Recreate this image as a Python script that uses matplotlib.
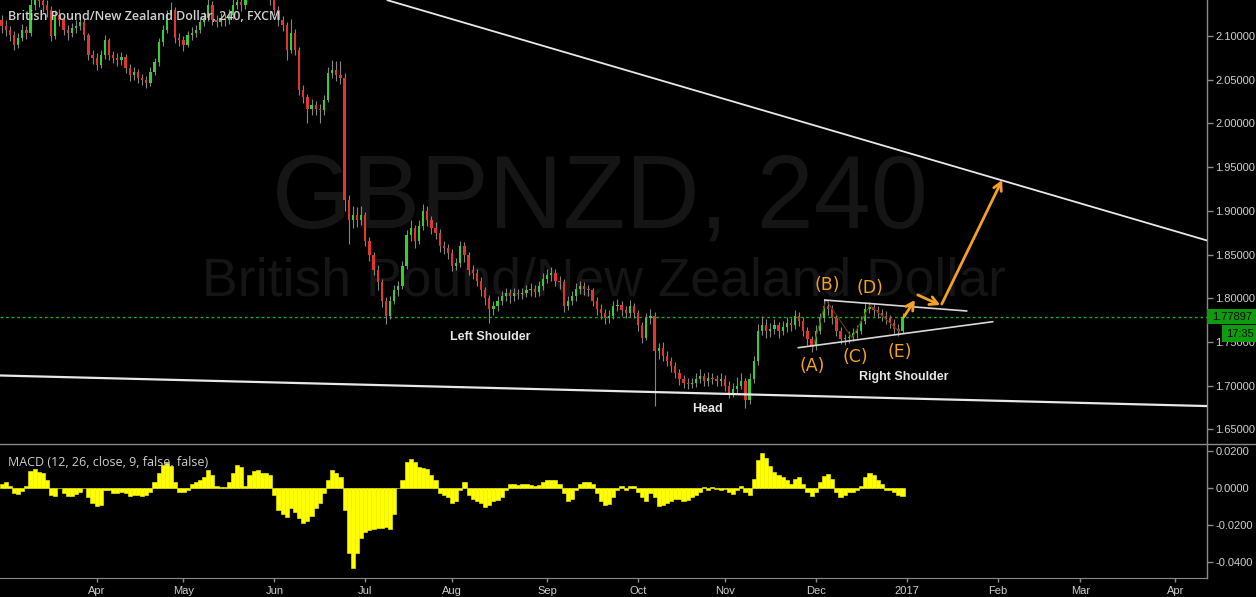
import numpy as np
import pandas as pd
import matplotlib
matplotlib.use('Agg')
import matplotlib.pyplot as plt
from matplotlib.patches import Rectangle

plt.rcParams['font.family'] = ['Liberation Sans', 'DejaVu Sans']

# ---------------- data (daily view of the 4h chart) ----------------
start_date = '2016-03-01'
first_open = 2.118
close = [2.112, 2.107, 2.101, 2.090, 2.098, 2.107, 2.104, 2.135, 2.145, 2.140,
         2.135, 2.130, 2.100, 2.124, 2.118, 2.107, 2.103, 2.109, 2.112, 2.116,
         2.101, 2.078, 2.075, 2.067, 2.078, 2.095, 2.078, 2.075, 2.072, 2.076,
         2.063, 2.055, 2.059, 2.052, 2.050, 2.046, 2.059, 2.070, 2.093, 2.107,
         2.124, 2.130, 2.098, 2.095, 2.090, 2.101, 2.104, 2.107, 2.116, 2.121,
         2.136, 2.118, 2.116, 2.121, 2.118, 2.124, 2.136, 2.139, 2.136, 2.150,
         2.158, 2.162, 2.156, 2.152, 2.148, 2.141, 2.130, 2.118, 2.113, 2.084,
         2.104, 2.084, 2.038, 2.030, 2.017, 2.021, 2.017, 2.015, 2.027, 2.058,
         2.061, 2.055, 2.052, 1.912, 1.889, 1.895, 1.889, 1.895, 1.866, 1.849,
         1.832, 1.818, 1.797, 1.780, 1.797, 1.809, 1.814, 1.837, 1.872, 1.880,
         1.866, 1.883, 1.900, 1.889, 1.880, 1.875, 1.860, 1.857, 1.852, 1.837,
         1.840, 1.860, 1.849, 1.832, 1.829, 1.820, 1.809, 1.800, 1.788, 1.791,
         1.797, 1.802, 1.806, 1.802, 1.806, 1.805, 1.806, 1.809, 1.811, 1.807,
         1.814, 1.822, 1.826, 1.829, 1.820, 1.818, 1.791, 1.797, 1.802, 1.811,
         1.814, 1.811, 1.809, 1.797, 1.788, 1.783, 1.777, 1.780, 1.791, 1.792,
         1.786, 1.783, 1.791, 1.783, 1.769, 1.755, 1.777, 1.780, 1.740, 1.743,
         1.734, 1.728, 1.723, 1.715, 1.708, 1.703, 1.702, 1.703, 1.708, 1.711,
         1.705, 1.709, 1.708, 1.705, 1.708, 1.700, 1.692, 1.696, 1.700, 1.705,
         1.683, 1.708, 1.728, 1.763, 1.769, 1.763, 1.765, 1.769, 1.763, 1.767,
         1.772, 1.769, 1.780, 1.774, 1.763, 1.753, 1.745, 1.763, 1.777, 1.791,
         1.788, 1.777, 1.763, 1.753, 1.754, 1.756, 1.760, 1.763, 1.774, 1.788,
         1.790, 1.786, 1.783, 1.780, 1.777, 1.772, 1.765, 1.763, 1.779]
high = [2.124, 2.118, 2.112, 2.106, 2.104, 2.114, 2.112, 2.142, 2.152, 2.150,
        2.146, 2.141, 2.134, 2.130, 2.131, 2.122, 2.113, 2.115, 2.118, 2.124,
        2.120, 2.104, 2.084, 2.080, 2.084, 2.101, 2.098, 2.083, 2.080, 2.082,
        2.079, 2.068, 2.064, 2.062, 2.057, 2.054, 2.064, 2.075, 2.098, 2.113,
        2.130, 2.139, 2.133, 2.103, 2.100, 2.106, 2.110, 2.113, 2.121, 2.127,
        2.145, 2.140, 2.124, 2.126, 2.125, 2.131, 2.144, 2.146, 2.144, 2.157,
        2.165, 2.170, 2.167, 2.161, 2.158, 2.153, 2.146, 2.134, 2.123, 2.116,
        2.120, 2.108, 2.087, 2.044, 2.034, 2.028, 2.026, 2.022, 2.033, 2.064,
        2.072, 2.071, 2.071, 2.058, 1.918, 1.905, 1.904, 1.906, 1.899, 1.870,
        1.853, 1.838, 1.822, 1.801, 1.803, 1.815, 1.820, 1.843, 1.878, 1.889,
        1.884, 1.890, 1.908, 1.905, 1.894, 1.887, 1.879, 1.866, 1.862, 1.856,
        1.846, 1.866, 1.864, 1.853, 1.838, 1.833, 1.824, 1.813, 1.804, 1.797,
        1.803, 1.808, 1.812, 1.810, 1.812, 1.811, 1.812, 1.815, 1.817, 1.815,
        1.820, 1.829, 1.833, 1.836, 1.833, 1.825, 1.822, 1.803, 1.808, 1.817,
        1.820, 1.819, 1.815, 1.812, 1.801, 1.793, 1.788, 1.786, 1.797, 1.799,
        1.797, 1.791, 1.798, 1.795, 1.787, 1.773, 1.783, 1.788, 1.784, 1.749,
        1.750, 1.740, 1.733, 1.727, 1.719, 1.712, 1.709, 1.709, 1.714, 1.719,
        1.715, 1.716, 1.714, 1.712, 1.714, 1.712, 1.705, 1.703, 1.710, 1.715,
        1.709, 1.714, 1.734, 1.770, 1.780, 1.776, 1.772, 1.776, 1.773, 1.774,
        1.779, 1.777, 1.787, 1.784, 1.778, 1.767, 1.757, 1.769, 1.783, 1.799,
        1.797, 1.792, 1.781, 1.767, 1.759, 1.762, 1.766, 1.769, 1.780, 1.795,
        1.796, 1.795, 1.791, 1.788, 1.785, 1.781, 1.776, 1.770, 1.783]
low = [2.104, 2.100, 2.094, 2.084, 2.086, 2.094, 2.097, 2.100, 2.130, 2.133,
       2.128, 2.122, 2.094, 2.097, 2.112, 2.101, 2.096, 2.099, 2.104, 2.107,
       2.096, 2.072, 2.068, 2.061, 2.063, 2.074, 2.073, 2.069, 2.066, 2.067,
       2.058, 2.049, 2.050, 2.046, 2.044, 2.040, 2.043, 2.055, 2.066, 2.089,
       2.103, 2.119, 2.092, 2.089, 2.083, 2.087, 2.096, 2.099, 2.103, 2.111,
       2.117, 2.113, 2.110, 2.111, 2.112, 2.114, 2.120, 2.131, 2.129, 2.131,
       2.145, 2.152, 2.150, 2.146, 2.142, 2.136, 2.124, 2.112, 2.106, 2.072,
       2.080, 2.078, 2.032, 2.023, 2.000, 2.010, 2.010, 2.001, 2.010, 2.024,
       2.052, 2.049, 2.045, 1.900, 1.862, 1.880, 1.881, 1.884, 1.860, 1.843,
       1.826, 1.809, 1.790, 1.771, 1.776, 1.793, 1.803, 1.810, 1.833, 1.865,
       1.858, 1.862, 1.878, 1.883, 1.873, 1.868, 1.853, 1.851, 1.845, 1.831,
       1.832, 1.836, 1.842, 1.826, 1.822, 1.814, 1.803, 1.792, 1.772, 1.781,
       1.785, 1.792, 1.797, 1.795, 1.797, 1.799, 1.799, 1.801, 1.803, 1.801,
       1.802, 1.809, 1.817, 1.820, 1.814, 1.811, 1.784, 1.786, 1.792, 1.797,
       1.805, 1.804, 1.803, 1.791, 1.781, 1.776, 1.771, 1.772, 1.776, 1.785,
       1.780, 1.777, 1.779, 1.777, 1.763, 1.749, 1.752, 1.771, 1.677, 1.731,
       1.728, 1.722, 1.716, 1.709, 1.701, 1.697, 1.696, 1.697, 1.698, 1.703,
       1.699, 1.700, 1.702, 1.699, 1.700, 1.694, 1.686, 1.687, 1.691, 1.696,
       1.674, 1.679, 1.703, 1.724, 1.758, 1.755, 1.756, 1.759, 1.755, 1.758,
       1.761, 1.762, 1.765, 1.768, 1.757, 1.746, 1.738, 1.741, 1.759, 1.773,
       1.781, 1.771, 1.757, 1.748, 1.747, 1.749, 1.751, 1.755, 1.759, 1.770,
       1.783, 1.780, 1.777, 1.774, 1.771, 1.766, 1.759, 1.757, 1.760]
macd = [0.002, 0.003, 0.001, -0.003, -0.0035, -0.0015, 0.001, 0.009, 0.010, 0.0085,
        0.008, 0.004, -0.004, -0.0045, 0.0, -0.003, -0.0045, -0.0045, -0.0035, -0.002,
        0.0, -0.005, -0.008, -0.0095, -0.009, -0.001, -0.001, -0.003, -0.0025, -0.002,
        -0.003, -0.0045, -0.004, -0.004, -0.0045, -0.004, -0.002, 0.003, 0.008, 0.0125,
        0.0135, 0.012, 0.003, -0.002, -0.002, -0.001, 0.002, 0.003, 0.004, 0.006,
        0.0095, 0.007, 0.001, 0.0005, 0.0005, 0.003, 0.008, 0.0125, 0.011, 0.001,
        0.007, 0.009, 0.0095, 0.008, 0.008, 0.007, -0.004, -0.012, -0.014, -0.0155,
        -0.011, -0.013, -0.016, -0.019, -0.018, -0.015, -0.011, -0.008, -0.003, 0.004,
        0.0095, 0.008, 0.006, -0.012, -0.035, -0.043, -0.035, -0.027, -0.0235, -0.0225,
        -0.022, -0.0215, -0.0215, -0.021, -0.022, -0.014, 0.0, 0.004, 0.014, 0.0155,
        0.014, 0.011, 0.0105, 0.010, 0.007, 0.004, -0.003, -0.004, -0.005, -0.008,
        -0.007, -0.001, 0.003, -0.004, -0.006, -0.007, -0.008, -0.0105, -0.009, -0.007,
        -0.0065, -0.005, -0.001, 0.002, 0.002, 0.0015, 0.002, 0.002, 0.0015, 0.001,
        0.0015, 0.003, 0.004, 0.0045, 0.004, 0.002, -0.003, -0.007, -0.006, -0.001,
        0.002, 0.003, 0.003, 0.002, -0.003, -0.007, -0.009, -0.0085, -0.005, -0.001,
        0.001, -0.001, 0.001, 0.001, -0.002, -0.005, -0.007, -0.003, -0.005, -0.0095,
        -0.009, -0.008, -0.007, -0.006, -0.006, -0.007, -0.0065, -0.005, -0.004, -0.002,
        0.0005, -0.001, 0.0005, -0.0005, -0.001, -0.0005, -0.002, -0.0035, -0.001, 0.001,
        -0.002, -0.004, 0.005, 0.015, 0.019, 0.016, 0.012, 0.0085, 0.007, 0.006,
        0.004, 0.002, 0.005, 0.006, 0.002, -0.002, -0.0045, -0.002, 0.003, 0.0065,
        0.0075, 0.005, -0.002, -0.005, -0.004, -0.002, -0.002, -0.001, 0.001, 0.006,
        0.008, 0.007, 0.004, 0.002, -0.001, -0.001, -0.002, -0.004, -0.0045]
last_price = 1.77897
last_time = '17:35'
price_ticks = [1.65, 1.70, 1.75, 1.80, 1.85, 1.90, 1.95, 2.00, 2.05, 2.10]
macd_ticks = [0.02, 0.0, -0.02, -0.04]

# drawings (bar index, price)
upper_trend = [(93.2, 2.1412), (291.7, 1.8660)]
lower_trend = [(-0.4, 1.7116), (291.7, 1.6766)]
tri_upper = [(199.2, 1.7979), (233.5, 1.7854)]
tri_lower = [(192.8, 1.7434), (239.8, 1.7731)]
wave_pts = [(196.3, 1.7430), (199.5, 1.7980), (205.8, 1.7545), (210.1, 1.7922), (217.4, 1.7613)]
wave_labels = ['(A)', '(B)', '(C)', '(D)', '(E)']
wave_label_pos = [(196.1, 1.7224), (199.7, 1.8150), (206.5, 1.7327), (210.1, 1.8115), (217.4, 1.7384)]
arrows = [((218.3, 1.7785), (221.0, 1.7980)),
          ((221.7, 1.8037), (227.1, 1.7922)),
          ((227.5, 1.7934), (242.1, 1.9352))]
pattern_labels = ['Left Shoulder', 'Head', 'Right Shoulder']
pattern_pos = [(118.2, 1.7556), (170.7, 1.6732), (218.3, 1.7098)]

# ---------------- figure ----------------
W, H = 1256, 597
fig = plt.figure(figsize=(W / 100, H / 100), dpi=100, facecolor='black')
right_px = 1207
ax = fig.add_axes([0, 1 - 444 / H, right_px / W, 444 / H])
axm = fig.add_axes([0, 1 - 577.7 / H, right_px / W, (577.7 - 444) / H])
for a in (ax, axm):
    a.set_facecolor('black')
    for s in ('top', 'left', 'bottom'):
        a.spines[s].set_visible(False)
    a.spines['right'].set_color('#8a8a8a')
    a.spines['right'].set_linewidth(1.0)
axm.spines['bottom'].set_visible(True)
axm.spines['bottom'].set_color('#8a8a8a')

xlim = (-0.387, 291.67)
ax.set_xlim(*xlim)
axm.set_xlim(*xlim)
ax.set_ylim(1.6332, 2.1412)
axm.set_ylim(-0.0483, 0.0236)

n = len(close)
xs = np.arange(n)
opens = [first_open] + close[:-1]
c = np.array(close); o = np.array(opens); hi = np.array(high); lo = np.array(low)
up = c >= o

# watermark (behind everything inside the price pane)
ax.text(600 / W, 1 - 227 / H, 'GBPNZD, 240', fontsize=74, color='#151515',
        ha='center', va='baseline', zorder=0, transform=fig.transFigure, clip_on=False)
ax.text(604 / W, 1 - 295 / H, 'British Pound/New Zealand Dollar', fontsize=38.5,
        color='#151515', ha='center', va='baseline', zorder=0, transform=fig.transFigure,
        clip_on=False)

# candles
ax.vlines(xs, lo, hi, color='#858585', linewidth=0.8, zorder=2)
body_bottom = np.minimum(o, c)
body_h = np.maximum(np.abs(c - o), 0.0008)
ax.bar(xs[up], body_h[up], bottom=body_bottom[up], width=0.55, color='#35cf35',
       linewidth=0, zorder=3)
ax.bar(xs[~up], body_h[~up], bottom=body_bottom[~up], width=0.55, color='#e2352f',
       linewidth=0, zorder=3)

# last price line
ax.axhline(last_price, color='#12b012', linewidth=1.0, linestyle=(0, (2, 2)), zorder=1)

# trend lines
for pts, lw in ((upper_trend, 1.3), (lower_trend, 1.6)):
    ax.plot([p[0] for p in pts], [p[1] for p in pts], color='#e8e8e8', linewidth=lw,
            zorder=4, solid_capstyle='butt')
for pts in (tri_upper, tri_lower):
    ax.plot([p[0] for p in pts], [p[1] for p in pts], color='#d8d8d8', linewidth=1.2, zorder=4)
ax.plot([p[0] for p in wave_pts], [p[1] for p in wave_pts], color='#5e3c10', linewidth=0.8,
        zorder=3.5)

orange = '#f4a024'
for (x0, y0), (x1, y1) in arrows:
    ax.annotate('', xy=(x1, y1), xytext=(x0, y0),
                arrowprops=dict(arrowstyle='->,head_length=0.55,head_width=0.3',
                                color=orange, lw=2.0, shrinkA=0, shrinkB=0), zorder=5)

for lab, (px, py) in zip(wave_labels, wave_label_pos):
    ax.text(px, py, lab, color=orange, fontsize=12.5, ha='center', va='center',
            family=['DejaVu Sans'], zorder=6)
for lab, (px, py) in zip(pattern_labels, pattern_pos):
    ax.text(px, py, lab, color='#e6e6e6', fontsize=9, ha='center', va='center',
            fontweight='bold', zorder=6)

# price axis
ax.yaxis.tick_right()
ax.set_yticks(price_ticks)
ax.set_yticklabels(['%.5f' % v for v in price_ticks])
ax.tick_params(axis='y', colors='#8a8a8a', labelcolor='#cfcfcf', length=4, width=1,
               labelsize=8, pad=2)
ax.set_xticks([])

# MACD histogram
axm.bar(xs, macd, width=1.0, color='#ffff00', edgecolor='#ffff00', linewidth=0.4, zorder=2)
axm.yaxis.tick_right()
axm.set_yticks(macd_ticks)
axm.set_yticklabels(['%.4f' % v for v in macd_ticks])
axm.tick_params(axis='y', colors='#8a8a8a', labelcolor='#cfcfcf', length=4, width=1,
                labelsize=8, pad=2)

# month ticks (bar index of the first weekday of each month)
all_days = pd.bdate_range(start_date, '2017-04-30')
pos = pd.Series(np.arange(len(all_days)), index=all_days)
firsts = pos.groupby([all_days.year, all_days.month]).first()
tick_pos, tick_lab = [], []
for (yr, mo), idx in firsts.items():
    if idx < 5:
        continue
    tick_pos.append(idx)
    tick_lab.append(str(yr) if mo == 1 else pd.Timestamp(year=yr, month=mo, day=1).strftime('%b'))
axm.set_xticks(tick_pos)
axm.set_xticklabels(tick_lab)
axm.tick_params(axis='x', colors='#8a8a8a', labelcolor='#cfcfcf', length=3, width=1,
                labelsize=8, pad=3)

# separator between panes
fig.add_artist(plt.Line2D([0, 1], [1 - 444 / H, 1 - 444 / H], transform=fig.transFigure,
                          color='#8a8a8a', linewidth=1.0))

# titles
fig.text(8 / W, 1 - 16.5 / H, 'British Pound/New Zealand Dollar, 240, FXCM', fontsize=9,
         color='#d0d0d0', ha='left', va='center', family=['Open Sans', 'DejaVu Sans'],
         fontweight='semibold')
fig.text(8 / W, 1 - 462 / H, 'MACD (12, 26, close, 9, false, false)', fontsize=9,
         color='#cfcfcf', ha='left', va='center', family=['Open Sans', 'DejaVu Sans'])

# last price tags
y_lp = ax.transData.transform((0, last_price))[1]
fig.add_artist(Rectangle((right_px / W, (y_lp - 7.5) / H), (W - right_px) / W, 15 / H,
                         transform=fig.transFigure, facecolor='#0f9a0f', edgecolor='none',
                         zorder=10))
fig.text((right_px + 25) / W, y_lp / H, '%.5f' % last_price, fontsize=8, color='#0a0a0a',
         ha='center', va='center', zorder=11)
fig.add_artist(Rectangle((1222 / W, (y_lp - 25.5) / H), (W - 1222) / W, 17 / H,
                         transform=fig.transFigure, facecolor='#0f9a0f', edgecolor='none',
                         zorder=10))
fig.text(1240 / W, (y_lp - 17) / H, last_time, fontsize=8, color='#0a0a0a',
         ha='center', va='center', zorder=11)

fig.savefig('out.png', dpi=100, facecolor='black')
